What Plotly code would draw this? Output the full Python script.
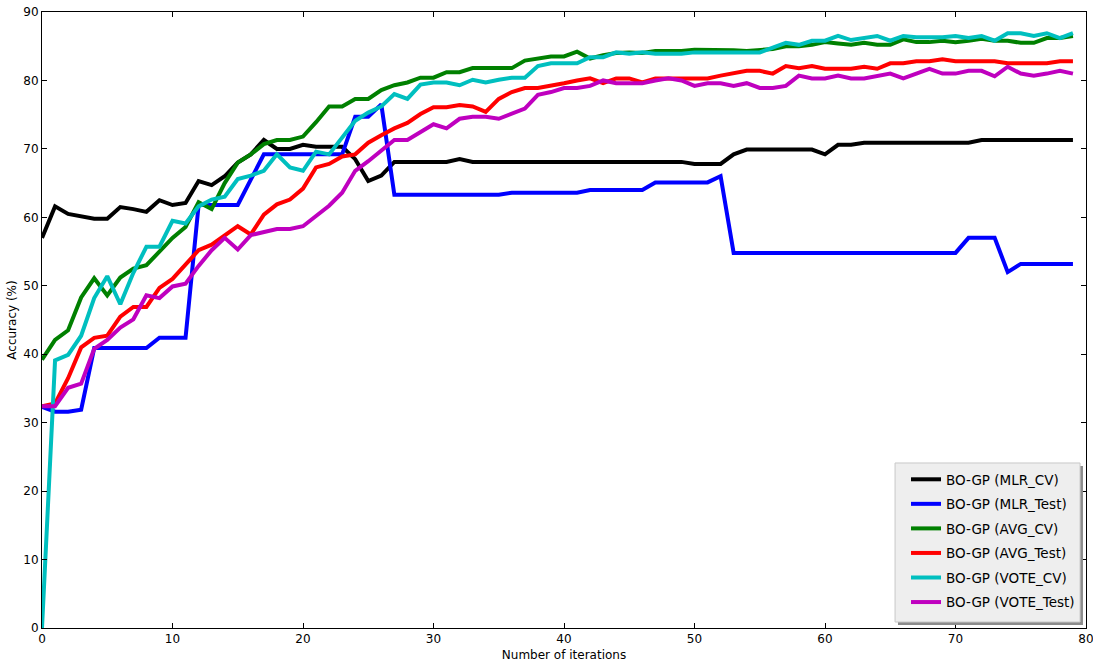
import plotly.graph_objects as go

iterations = list(range(80))

mlr_cv = [57.0, 61.6, 60.5, 60.2, 59.8, 59.8, 61.5, 61.2, 60.8, 62.5,
          61.8, 62.1, 65.3, 64.7, 66.0, 68.0, 69.2, 71.3, 70.0, 70.0,
          70.6, 70.3, 70.3, 70.3, 68.5, 65.3, 66.1, 68.1, 68.1, 68.1,
          68.1, 68.1, 68.5, 68.1, 68.1, 68.1, 68.1, 68.1, 68.1, 68.1,
          68.1, 68.1, 68.1, 68.1, 68.1, 68.1, 68.1, 68.1, 68.1, 68.1,
          67.8, 67.8, 67.8, 69.2, 69.9, 69.9, 69.9, 69.9, 69.9, 69.9,
          69.2, 70.6, 70.6, 70.9, 70.9, 70.9, 70.9, 70.9, 70.9, 70.9,
          70.9, 70.9, 71.3, 71.3, 71.3, 71.3, 71.3, 71.3, 71.3, 71.3]

mlr_test = [32.3, 31.6, 31.6, 31.9, 40.9, 40.9, 40.9, 40.9, 40.9, 42.4,
            42.4, 42.4, 61.8, 61.8, 61.8, 61.8, 65.5, 69.2, 69.2, 69.2,
            69.2, 69.2, 69.2, 69.2, 74.7, 74.7, 76.5, 63.3, 63.3, 63.3,
            63.3, 63.3, 63.3, 63.3, 63.3, 63.3, 63.6, 63.6, 63.6, 63.6,
            63.6, 63.6, 64.0, 64.0, 64.0, 64.0, 64.0, 65.1, 65.1, 65.1,
            65.1, 65.1, 66.0, 54.8, 54.8, 54.8, 54.8, 54.8, 54.8, 54.8,
            54.8, 54.8, 54.8, 54.8, 54.8, 54.8, 54.8, 54.8, 54.8, 54.8,
            54.8, 57.0, 57.0, 57.0, 52.0, 53.2, 53.2, 53.2, 53.2, 53.2]

avg_cv = [39.2, 42.1, 43.5, 48.3, 51.1, 48.6, 51.2, 52.5, 53.0, 55.1,
          57.0, 58.6, 62.2, 61.2, 65.0, 68.0, 69.2, 70.7, 71.3, 71.3,
          71.8, 73.9, 76.2, 76.2, 77.3, 77.3, 78.6, 79.3, 79.7, 80.4,
          80.4, 81.2, 81.2, 81.8, 81.8, 81.8, 81.8, 82.9, 83.2, 83.5,
          83.5, 84.2, 83.2, 83.7, 84.0, 84.1, 84.0, 84.3, 84.3, 84.3,
          84.5, 84.5, 84.5, 84.4, 84.3, 84.5, 84.6, 85.0, 85.0, 85.2,
          85.6, 85.4, 85.2, 85.5, 85.2, 85.2, 86.0, 85.6, 85.6, 85.8,
          85.6, 85.8, 86.1, 85.8, 85.8, 85.5, 85.5, 86.2, 86.2, 86.5]

avg_test = [32.4, 32.8, 36.5, 41.0, 42.4, 42.7, 45.5, 46.9, 46.9, 49.7,
            51.0, 53.1, 55.2, 56.0, 57.3, 58.7, 57.5, 60.4, 61.9, 62.6,
            64.2, 67.3, 67.8, 68.9, 69.2, 70.9, 72.0, 73.0, 73.8, 75.1,
            76.1, 76.1, 76.4, 76.2, 75.4, 77.3, 78.3, 78.9, 78.9, 79.2,
            79.6, 80.0, 80.3, 79.6, 80.3, 80.3, 79.7, 80.3, 80.3, 80.3,
            80.3, 80.3, 80.7, 81.0, 81.4, 81.4, 81.0, 82.1, 81.8, 82.1,
            81.7, 81.7, 81.7, 82.0, 81.7, 82.5, 82.5, 82.8, 82.8, 83.1,
            82.8, 82.8, 82.8, 82.8, 82.5, 82.5, 82.5, 82.5, 82.8, 82.8]

vote_cv = [0.0, 39.1, 39.9, 42.7, 48.2, 51.4, 47.3, 51.9, 55.7, 55.7,
           59.5, 59.1, 61.6, 62.6, 63.0, 65.6, 66.1, 66.8, 69.2, 67.3,
           66.8, 69.6, 69.2, 71.7, 74.1, 75.3, 76.2, 78.0, 77.3, 79.4,
           79.7, 79.7, 79.3, 80.1, 79.7, 80.1, 80.4, 80.4, 82.1, 82.5,
           82.5, 82.5, 83.4, 83.4, 84.1, 83.9, 84.1, 83.9, 83.9, 83.9,
           84.1, 84.1, 84.1, 84.1, 84.1, 84.1, 84.8, 85.5, 85.2, 85.8,
           85.8, 86.5, 85.9, 86.2, 86.5, 85.8, 86.5, 86.3, 86.3, 86.3,
           86.5, 86.2, 86.5, 85.8, 86.9, 86.9, 86.5, 86.9, 86.2, 86.9]

vote_test = [32.4, 32.4, 35.1, 35.7, 40.8, 42.1, 43.9, 45.1, 48.6, 48.2,
             49.9, 50.3, 52.9, 55.2, 57.0, 55.3, 57.4, 57.8, 58.3, 58.3,
             58.7, 60.2, 61.7, 63.6, 66.8, 68.2, 69.7, 71.3, 71.3, 72.4,
             73.6, 73.0, 74.4, 74.7, 74.7, 74.4, 75.2, 75.9, 77.9, 78.3,
             78.9, 78.9, 79.2, 80.0, 79.6, 79.6, 79.6, 80.0, 80.3, 80.0,
             79.2, 79.6, 79.6, 79.2, 79.6, 78.9, 78.9, 79.2, 80.7, 80.3,
             80.3, 80.7, 80.3, 80.3, 80.7, 81.0, 80.3, 81.0, 81.7, 81.0,
             81.0, 81.4, 81.4, 80.6, 82.0, 81.0, 80.7, 81.0, 81.4, 81.0]

series_names = ["BO-GP (MLR_CV)", "BO-GP (MLR_Test)", "BO-GP (AVG_CV)",
                "BO-GP (AVG_Test)", "BO-GP (VOTE_CV)", "BO-GP (VOTE_Test)"]
series_values = [mlr_cv, mlr_test, avg_cv, avg_test, vote_cv, vote_test]
series_colors = ["#000000", "#0000ff", "#008000", "#ff0000", "#00bfbf", "#bf00bf"]

x_ticks = list(range(0, 81, 10))
y_ticks = list(range(0, 91, 10))

fig = go.Figure()
for k, (name, vals, col) in enumerate(zip(series_names, series_values, series_colors)):
    fig.add_trace(go.Scatter(x=iterations, y=vals, mode="lines", name=name,
                             legendgroup=f"g{k}",
                             line=dict(color=col, width=4)))

axis_common = dict(showline=True, linecolor="#000000", linewidth=1, mirror="ticks",
                   ticks="inside", ticklen=5, tickcolor="#000000", showgrid=False,
                   zeroline=False, automargin=False, ticklabeloverflow="allow",
                   tickfont=dict(family="DejaVu Sans", size=12, color="#000000"))

fig.update_xaxes(range=[0, 80], tickvals=x_ticks, title=dict(text="Number of iterations",
                 font=dict(family="DejaVu Sans", size=12, color="#000000"), standoff=5),
                 **axis_common)
fig.update_yaxes(range=[0, 90], tickvals=y_ticks, title=dict(text="Accuracy (%)",
                 font=dict(family="DejaVu Sans", size=12, color="#000000"), standoff=4),
                 **axis_common)

# legend frame drawn as shapes (shadow, then box)
fig.add_shape(type="rect", xref="paper", yref="paper",
              x0=0.8199, x1=0.9971, y0=0.0049, y1=0.263, fillcolor="#8c8c8c",
              line=dict(width=0), layer="above")
fig.add_shape(type="rect", xref="paper", yref="paper",
              x0=0.8171, x1=0.9943, y0=0.0097, y1=0.2679, fillcolor="#eeeeee",
              line=dict(width=1, color="#c8c8c8"), layer="above")

fig.update_layout(
    width=1093, height=667,
    margin=dict(l=42, r=7, t=12, b=39),
    paper_bgcolor="#ffffff", plot_bgcolor="#ffffff",
    showlegend=True,
    legend=dict(x=0.8276, xanchor="left", y=0.2662, yanchor="top",
                bgcolor="rgba(0,0,0,0)", borderwidth=0,
                font=dict(family="DejaVu Sans", size=13.5, color="#000000"),
                itemwidth=30, tracegroupgap=4),
)

fig.write_html("out.html", config={"displayModeBar": False},
               post_script="document.body.style.margin='0';")
